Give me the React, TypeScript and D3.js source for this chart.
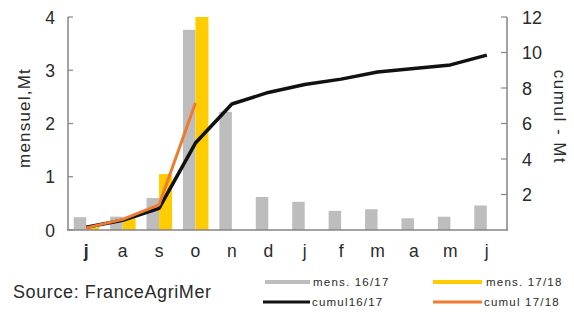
import React from "react";
import * as d3 from "d3";

const months = ["j", "a", "s", "o", "n", "d", "j", "f", "m", "a", "m", "j"];
const mens1617 = [0.24, 0.25, 0.6, 3.76, 2.22, 0.62, 0.53, 0.36, 0.39, 0.22, 0.25, 0.46];
const mens1718 = [0.05, 0.22, 1.05, 4.0];
const cumul1617 = [0.15, 0.55, 1.22, 4.9, 7.1, 7.75, 8.2, 8.5, 8.9, 9.1, 9.3, 9.85];
const cumul1718 = [0.12, 0.6, 1.42, 7.15];
const leftTicks = [0, 1, 2, 3, 4];
const rightTicks = [2, 4, 6, 8, 10, 12];

const W = 574;
const H = 313;
const font = "'Liberation Sans', Arial, sans-serif";
const txt = "#2a2a2a";
const axisCol = "#858585";
const gray = "#BDBDBD";
const yellow = "#FFCC00";
const orange = "#EE7B30";

if (typeof document !== "undefined") document.body.style.margin = "0";

export default function App() {
  const idx = months.map((_, i) => String(i));
  const x = d3.scaleBand().domain(idx).range([68, 505]).padding(0);
  const yL = d3.scaleLinear().domain([0, 4]).range([230, 17]);
  const yR = d3.scaleLinear().domain([0, 12]).range([230, 17]);
  const bw = 12.5;
  const center = (i: number) => (x(String(i)) || 0) + x.bandwidth() / 2;

  const line = d3
    .line<number>()
    .x((_, i) => center(i))
    .y((d) => yR(d));

  return (
    <svg width={W} height={H} style={{ display: "block", background: "#fff" }} fontFamily={font}>
      {/* monthly bars */}
      {mens1617.map((v, i) => (
        <rect key={"g" + i} x={center(i) - bw} y={yL(v)} width={bw} height={yL(0) - yL(v)} fill={gray} />
      ))}
      {mens1718.map((v, i) => (
        <rect key={"y" + i} x={center(i)} y={yL(v)} width={13} height={yL(0) - yL(v)} fill={yellow} />
      ))}

      {/* axes */}
      <line x1={68} x2={68} y1={yL(4)} y2={yL(0)} stroke={axisCol} strokeWidth={1.5} />
      <line x1={67} x2={508} y1={yL(0)} y2={yL(0)} stroke={axisCol} strokeWidth={1.5} />
      <line x1={507} x2={507} y1={yR(12)} y2={yR(0)} stroke={axisCol} strokeWidth={1.5} />
      {leftTicks.map((t) => (
        <g key={"lt" + t}>
          <line x1={68} x2={73} y1={yL(t)} y2={yL(t)} stroke={axisCol} strokeWidth={1.2} />
          <text x={55} y={yL(t)} dy="0.38em" textAnchor="end" fontSize={17.5} fill={txt}>
            {t}
          </text>
        </g>
      ))}
      {rightTicks.map((t) => (
        <g key={"rt" + t}>
          <line x1={501} x2={507} y1={yR(t)} y2={yR(t)} stroke={axisCol} strokeWidth={1.2} />
          <text x={522} y={yR(t)} dy="0.38em" textAnchor="start" fontSize={18} fill={txt}>
            {t}
          </text>
        </g>
      ))}
      {months.map((m, i) => (
        <text
          key={"m" + i}
          x={center(i)}
          y={257}
          textAnchor="middle"
          fontSize={17.5}
          fill={txt}
          fontWeight={i === 0 ? "bold" : "normal"}
        >
          {m}
        </text>
      ))}

      {/* cumulative lines */}
      <path d={line(cumul1617) || ""} fill="none" stroke="#111" strokeWidth={3.5} strokeLinejoin="round" />
      <path d={line(cumul1718) || ""} fill="none" stroke={orange} strokeWidth={3} strokeLinejoin="round" />

      {/* axis titles */}
      <text
        transform="translate(30,118) rotate(-90)"
        textAnchor="middle"
        fontSize={17}
        letterSpacing={1.2}
        fill={txt}
      >
        mensuel,Mt
      </text>
      <text
        transform="translate(554,117) rotate(90)"
        textAnchor="middle"
        fontSize={17}
        letterSpacing={1.5}
        fill={txt}
      >
        cumul - Mt
      </text>

      {/* source */}
      <text x={13} y={297.5} fontSize={18} letterSpacing={0.6} fill={txt}>
        Source: FranceAgriMer
      </text>

      {/* legend */}
      <g fontSize={11.5} letterSpacing={1.2} fill={txt}>
        <line x1={265} x2={310} y1={282} y2={282} stroke={gray} strokeWidth={4} />
        <text x={313} y={282} dy="0.35em">mens. 16/17</text>
        <line x1={433} x2={482} y1={282} y2={282} stroke={yellow} strokeWidth={4} />
        <text x={486} y={282} dy="0.35em">mens. 17/18</text>
        <line x1={263} x2={310} y1={302} y2={302} stroke="#111" strokeWidth={3} />
        <text x={312} y={302} dy="0.35em">cumul16/17</text>
        <line x1={433} x2={482} y1={302} y2={302} stroke={orange} strokeWidth={3} />
        <text x={484} y={302} dy="0.35em">cumul 17/18</text>
      </g>
    </svg>
  );
}
